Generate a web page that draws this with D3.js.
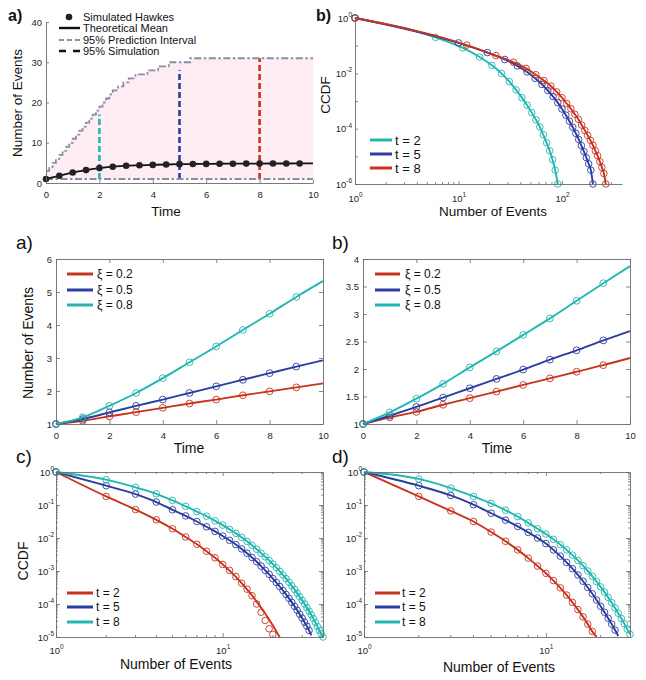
<!DOCTYPE html>
<html>
<head>
<meta charset="utf-8">
<script src="https://cdn.jsdelivr.net/npm/d3@7"></script>
<style>
  body { margin: 0; background: #fff; }
</style>
</head>
<body>
<svg id="fig" width="646" height="680"></svg>
<script>
// ---------- top a) : one simulated Hawkes process
var meanT = [0, 0.5, 1, 1.5, 2, 2.5, 3, 3.5, 4, 4.5, 5, 5.5, 6, 6.5, 7, 7.5, 8, 8.5, 9, 9.5, 10];
var meanN = [1, 1.8, 2.6, 3.2, 3.7, 4.05, 4.3, 4.4, 4.5, 4.6, 4.68, 4.72, 4.75, 4.78, 4.8, 4.82, 4.83, 4.84, 4.85, 4.86, 4.87];
var piT  = [0, 0.12, 0.25, 0.37, 0.5, 0.62, 0.75, 0.87, 1, 1.12, 1.25, 1.37, 1.5, 1.62, 1.75, 1.87, 2, 2.12, 2.25, 2.37, 2.5, 2.7, 2.9, 3.1, 3.35, 3.8, 4.2, 4.6, 5.4, 10];
var piUp = [3, 4, 5, 6, 7, 8, 9, 10, 11, 12, 13, 14, 15, 16, 17, 18, 19, 20, 21, 22, 23, 24, 25, 26, 27, 28, 29, 30, 31, 31];
var piLoT = [0, 10];
var piLo  = [1, 1];
var simT  = [2, 5, 8];
var simLo = [1, 1, 1];
var simHi = [17, 28, 31];

// ---------- top b) : CCDF (log10) at t = 2, 5, 8
var trTealN = [1, 6, 11, 16, 21, 26, 31, 36, 41, 46, 51, 56, 61, 66, 71, 76, 81, 86, 91];
var trTeal  = [0, -0.70, -1.08, -1.41, -1.71, -2.00, -2.30, -2.60, -2.88, -3.15, -3.42, -3.68, -3.94, -4.22, -4.51, -4.80, -5.12, -5.50, -6];
var trBlueN = [1, 10, 19, 28, 37, 46, 55, 64, 73, 82, 91, 100, 109, 118, 127, 136, 145, 154, 163, 172, 181, 190, 199];
var trBlue  = [0, -0.90, -1.25, -1.50, -1.73, -1.95, -2.18, -2.40, -2.62, -2.84, -3.06, -3.29, -3.51, -3.73, -3.95, -4.17, -4.39, -4.61, -4.83, -5.05, -5.27, -5.50, -6];
var trRedN  = [1, 12, 23, 34, 45, 56, 67, 78, 89, 100, 111, 122, 133, 144, 155, 166, 177, 188, 199, 210, 221, 232, 243, 254, 265];
var trRed   = [0, -0.98, -1.36, -1.60, -1.82, -2.05, -2.26, -2.46, -2.67, -2.88, -3.09, -3.28, -3.48, -3.66, -3.87, -4.06, -4.24, -4.42, -4.60, -4.80, -4.98, -5.19, -5.40, -5.62, -6];

// ---------- middle a) b) : mean number of events vs time
var tGrid = [0, 1, 2, 3, 4, 5, 6, 7, 8, 9, 10];
var aRed  = [1, 1.1, 1.23, 1.36, 1.49, 1.62, 1.74, 1.87, 1.99, 2.11, 2.23];
var aBlue = [1, 1.15, 1.35, 1.55, 1.74, 1.94, 2.14, 2.34, 2.54, 2.74, 2.93];
var aTeal = [1, 1.2, 1.55, 1.94, 2.39, 2.87, 3.35, 3.85, 4.34, 4.85, 5.33];
var bRed  = [1, 1.12, 1.22, 1.35, 1.47, 1.59, 1.71, 1.83, 1.95, 2.07, 2.2];
var bBlue = [1, 1.15, 1.31, 1.48, 1.65, 1.82, 1.99, 2.17, 2.34, 2.52, 2.69];
var bTeal = [1, 1.21, 1.46, 1.73, 2.03, 2.32, 2.62, 2.92, 3.24, 3.56, 3.87];
var xiLabels = ['\u03be = 0.2', '\u03be = 0.5', '\u03be = 0.8'];

// ---------- bottom c) d) : CCDF (log10) at N = 1, 2, 3, ...
var countN = d3.range(1, 41);
var cRedFit  = [0, -0.74, -1.14, -1.45, -1.72, -1.97, -2.19, -2.40, -2.60, -2.80, -2.99, -3.18, -3.37, -3.56, -3.74, -3.93, -4.11, -4.29, -4.47, -4.65, -4.83, -5.0];
var cRedSim  = [0, -0.74, -1.14, -1.45, -1.72, -1.97, -2.19, -2.40, -2.60, -2.80, -2.98, -3.17, -3.37, -3.55, -3.75, -4.00, -4.25, -4.50, -4.75, -4.92];
var cBlueFit = [0, -0.415, -0.67, -0.91, -1.145, -1.33, -1.50, -1.66, -1.80, -1.94, -2.07, -2.20, -2.33, -2.46, -2.59, -2.72, -2.85, -2.98, -3.10, -3.23,
                -3.35, -3.47, -3.59, -3.71, -3.83, -3.95, -4.07, -4.19, -4.31, -4.43, -4.55, -4.67, -4.80, -4.95];
var cTealFit = [0, -0.233, -0.466, -0.66, -0.86, -1.04, -1.20, -1.34, -1.48, -1.61, -1.74, -1.86, -1.98, -2.10, -2.22, -2.34, -2.46, -2.57, -2.68, -2.79,
                -2.90, -3.01, -3.12, -3.23, -3.34, -3.45, -3.56, -3.67, -3.78, -3.89, -4.00, -4.11, -4.22, -4.33, -4.44, -4.56, -4.68, -4.80, -4.90, -5.0];
var dRedFit  = [0, -0.74, -1.18, -1.50, -1.82, -2.10, -2.36, -2.61, -2.85, -3.07, -3.29, -3.51, -3.73, -3.95, -4.17, -4.39, -4.61, -4.83, -5.0];
var dBlueFit = [0, -0.415, -0.71, -0.99, -1.25, -1.46, -1.65, -1.83, -2.00, -2.17, -2.36, -2.55, -2.74, -2.93, -3.12, -3.31, -3.50, -3.69, -3.88, -4.07,
                -4.25, -4.43, -4.61, -4.79, -4.97];
var dTealFit = [0, -0.21, -0.49, -0.74, -0.95, -1.16, -1.35, -1.54, -1.72, -1.88, -2.04, -2.20, -2.36, -2.52, -2.68, -2.84, -3.00, -3.16, -3.32, -3.48,
                -3.64, -3.80, -3.96, -4.12, -4.28, -4.44, -4.60, -4.76, -4.92];
var tLabels = ['t = 2', 't = 5', 't = 8'];

// ---------- styles
var FONT = '"Liberation Sans", Arial, Helvetica, sans-serif';
var RED = '#c8331e', BLUE = '#2b3d9f', TEAL = '#22b6b1';
var GREYPI = '#8d8ca6', PINK = '#fdedf3';
var AXIS = '#6b6b6b', INK = '#262626';

var svg = d3.select('#fig');

function label(x, y, s, size, opt) {
  opt = opt || {};
  var t = svg.append('text').attr('x', x).attr('y', y).text(s)
    .attr('font-family', FONT).attr('font-size', size).attr('fill', opt.fill || '#111')
    .attr('text-anchor', opt.anchor || 'start');
  if (opt.bold) t.attr('font-weight', 'bold');
  if (opt.rotate) t.attr('transform', 'rotate(-90,' + x + ',' + y + ')');
  return t;
}

// "10" with a superscript exponent
function pow10(sel, e) {
  sel.text('10');
  sel.append('tspan').attr('dy', -4.5).attr('font-size', 6.5).text(e);
}

function frame(x, y, o) {
  var L = x.range()[0], R = x.range()[1], B = y.range()[0], T = y.range()[1];
  var tk = o.tick || 4;
  var g = svg.append('g');
  var gx = g.append('g').attr('transform', 'translate(0,' + B + ')')
    .call(d3.axisBottom(x).tickValues(o.xTicks).tickSizeInner(-tk).tickSizeOuter(0)
      .tickPadding(o.xPad).tickFormat(o.xLog ? '' : String));
  var gy = g.append('g').attr('transform', 'translate(' + L + ',0)')
    .call(d3.axisLeft(y).tickValues(o.yTicks).tickSizeInner(-tk).tickSizeOuter(0)
      .tickPadding(o.yPad).tickFormat(o.yLog ? '' : String));
  if (o.box) {
    g.append('g').attr('transform', 'translate(0,' + T + ')')
      .call(d3.axisTop(x).tickValues(o.xTicks).tickSizeInner(-tk).tickSizeOuter(0).tickFormat(''));
    g.append('g').attr('transform', 'translate(' + R + ',0)')
      .call(d3.axisRight(y).tickValues(o.yTicks).tickSizeInner(-tk).tickSizeOuter(0).tickFormat(''));
  }
  (o.xMinor || []).forEach(function (v) {
    g.append('line').attr('x1', x(v)).attr('x2', x(v)).attr('y1', B).attr('y2', B - 2);
    if (o.box) g.append('line').attr('x1', x(v)).attr('x2', x(v)).attr('y1', T).attr('y2', T + 2);
  });
  (o.yMinor || []).forEach(function (v) {
    g.append('line').attr('y1', y(v)).attr('y2', y(v)).attr('x1', L).attr('x2', L + 2);
    if (o.box) g.append('line').attr('y1', y(v)).attr('y2', y(v)).attr('x1', R).attr('x2', R - 2);
  });
  g.selectAll('line').attr('stroke', AXIS).attr('stroke-width', 0.8);
  g.selectAll('.domain').attr('stroke', AXIS).attr('stroke-width', 0.9);
  g.selectAll('text').attr('font-family', FONT).attr('font-size', 9.5).attr('fill', INK);
  if (o.xLog) gx.selectAll('.tick text').each(function (d) {
    pow10(d3.select(this), Math.round(Math.log10(d)));
  });
  if (o.yLog) gy.selectAll('.tick text').each(function (d) {
    if (!o.yEvery || d % o.yEvery === 0) pow10(d3.select(this), d);
  });
  return g;
}

function drawLine(x, y, xs, ys, color, w) {
  svg.append('path').datum(ys)
    .attr('fill', 'none').attr('stroke', color).attr('stroke-width', w)
    .attr('d', d3.line()
      .x(function (d, i) { return x(xs[i]); })
      .y(function (d) { return y(d); })
      .curve(d3.curveMonotoneX));
}

function drawRings(x, y, xs, ys, color, r) {
  svg.append('g').selectAll('circle').data(ys).join('circle')
    .attr('cx', function (d, i) { return x(xs[i]); })
    .attr('cy', function (d) { return y(d); })
    .attr('r', r).attr('fill', 'none').attr('stroke', color).attr('stroke-width', 0.9);
}

function legend(colors, texts, x0, x1, xt, ys, size) {
  colors.forEach(function (c, i) {
    svg.append('line').attr('x1', x0).attr('x2', x1).attr('y1', ys[i]).attr('y2', ys[i])
      .attr('stroke', c).attr('stroke-width', 3);
    label(xt, ys[i] + size * 0.36, texts[i], size);
  });
}

function minorLog(lo, hi) {
  // minor tick positions 2..9 x 10^k on an axis of N
  var out = [];
  for (var k = 0; Math.pow(10, k) < hi; k++)
    for (var m = 2; m <= 9; m++) { var v = m * Math.pow(10, k); if (v > lo && v <= hi) out.push(v); }
  return out;
}
function minorExp(lo, hi) {
  // minor tick positions on an axis of log10 values
  var out = [];
  for (var k = lo; k < hi; k++) for (var m = 2; m <= 9; m++) out.push(k + Math.log10(m));
  return out;
}

// ================= top a)
(function () {
  var x = d3.scaleLinear().domain([0, 10]).range([46, 313]);
  var y = d3.scaleLinear().domain([0, 40]).range([183, 22]);

  svg.append('path').datum(piT)
    .attr('fill', PINK)
    .attr('d', d3.area()
      .x(function (d) { return x(d); })
      .y0(y(piLo[0]))
      .y1(function (d, i) { return y(piUp[i]); })
      .curve(d3.curveStepAfter));

  [TEAL, BLUE, RED].forEach(function (c, i) {
    svg.append('line').attr('x1', x(simT[i])).attr('x2', x(simT[i]))
      .attr('y1', y(simLo[i])).attr('y2', y(simHi[i]))
      .attr('stroke', c).attr('stroke-width', 2.6).attr('stroke-dasharray', '6,3');
  });

  svg.append('path').datum(piUp)
    .attr('fill', 'none').attr('stroke', GREYPI).attr('stroke-width', 1.8)
    .attr('stroke-dasharray', '7,2.5,2.5,2.5')
    .attr('d', d3.line().x(function (d, i) { return x(piT[i]); }).y(function (d) { return y(d); })
      .curve(d3.curveStepAfter));
  svg.append('path').datum(piLo)
    .attr('fill', 'none').attr('stroke', GREYPI).attr('stroke-width', 1.8)
    .attr('stroke-dasharray', '7,2.5,2.5,2.5')
    .attr('d', d3.line().x(function (d, i) { return x(piLoT[i]); }).y(function (d) { return y(d); }));

  drawLine(x, y, meanT, meanN, '#111', 1.8);
  svg.append('g').selectAll('circle').data(meanN.slice(0, 20)).join('circle')
    .attr('cx', function (d, i) { return x(meanT[i]); })
    .attr('cy', function (d) { return y(d); })
    .attr('r', 3.3).attr('fill', '#222');

  frame(x, y, { xTicks: [0, 2, 4, 6, 8, 10], yTicks: [0, 10, 20, 30, 40], xPad: 8, yPad: 4, tick: 3 });

  // legend
  svg.append('circle').attr('cx', 69).attr('cy', 17).attr('r', 3.3).attr('fill', '#222');
  svg.append('line').attr('x1', 59).attr('x2', 80).attr('y1', 28).attr('y2', 28)
    .attr('stroke', '#111').attr('stroke-width', 2.4);
  svg.append('line').attr('x1', 59).attr('x2', 80).attr('y1', 40).attr('y2', 40)
    .attr('stroke', GREYPI).attr('stroke-width', 2).attr('stroke-dasharray', '5,3');
  svg.append('line').attr('x1', 59).attr('x2', 80).attr('y1', 51).attr('y2', 51)
    .attr('stroke', '#111').attr('stroke-width', 2.6).attr('stroke-dasharray', '7,7');
  ['Simulated Hawkes', 'Theoretical Mean', '95% Prediction Interval', '95% Simulation'].forEach(function (s, i) {
    label(83, [17, 28, 40, 51][i] + 4, s, 11);
  });

  label(166, 216, 'Time', 13.5, { anchor: 'middle' });
  label(22, 103, 'Number of Events', 13.5, { anchor: 'middle', rotate: true });
  label(8, 21, 'a)', 16, { bold: true });
})();

// ================= top b)
(function () {
  var x = d3.scaleLog().domain([1, 380]).range([355, 622]);
  var y = d3.scaleLinear().domain([-6, 0]).range([184, 18]);

  drawLine(x, y, trTealN, trTeal, TEAL, 1.9);
  drawRings(x, y, trTealN, trTeal, TEAL, 3.3);
  drawLine(x, y, trBlueN, trBlue, BLUE, 1.9);
  drawRings(x, y, trBlueN, trBlue, BLUE, 3.3);
  drawLine(x, y, trRedN, trRed, RED, 1.9);
  drawRings(x, y, trRedN, trRed, RED, 3.3);

  frame(x, y, {
    xTicks: [1, 10, 100], yTicks: [-6, -5, -4, -3, -2, -1, 0], xLog: true, yLog: true, yEvery: 2,
    xMinor: minorLog(1, 380), xPad: 11, yPad: 3, tick: 3
  });

  legend([TEAL, BLUE, RED], tLabels, 370, 392, 395, [140, 154, 168], 13);
  label(493, 216, 'Number of Events', 13.5, { anchor: 'middle' });
  label(330, 95, 'CCDF', 13.5, { anchor: 'middle', rotate: true });
  label(316, 21, 'b)', 16, { bold: true });
})();

// ================= middle a) b)
function meanPanel(left, right, yMax, yTicks, reds, blues, teals, lx0, lx1, lxt, tag, tagX, titleX) {
  var x = d3.scaleLinear().domain([0, 10]).range([left, right]);
  var y = d3.scaleLinear().domain([1, yMax]).range([424, 259]);
  [[reds, RED], [blues, BLUE], [teals, TEAL]].forEach(function (s) {
    drawLine(x, y, tGrid, s[0], s[1], 1.9);
    drawRings(x, y, tGrid.slice(0, 10), s[0].slice(0, 10), s[1], 3.4);
  });
  frame(x, y, { xTicks: [0, 2, 4, 6, 8, 10], yTicks: yTicks, box: true, xPad: 8, yPad: 4 });
  legend([RED, BLUE, TEAL], xiLabels, lx0, lx1, lxt, [274, 290, 305], 12);
  label(titleX, 453, 'Time', 14, { anchor: 'middle' });
  label(tagX, 249, tag, 19);
  return x;
}
meanPanel(56, 323, 6, [1, 2, 3, 4, 5, 6], aRed, aBlue, aTeal, 67, 93, 97, 'a)', 16, 189);
meanPanel(363, 630, 4, [1, 1.5, 2, 2.5, 3, 3.5, 4], bRed, bBlue, bTeal, 375, 400, 405, 'b)', 332, 497);
label(33, 343, 'Number of Events', 14, { anchor: 'middle', rotate: true });

// ================= bottom c) d)
function ccdfPanel(left, right, nMax, series, lx0, lx1, lxt, tag, tagX, titleX, titleY) {
  var x = d3.scaleLog().domain([1, nMax]).range([left, right]);
  var y = d3.scaleLinear().domain([-5, 0]).range([637, 472]);
  series.forEach(function (s) {
    drawLine(x, y, countN, s.fit, s.color, 1.9);
    drawRings(x, y, countN, s.sim, s.color, 3.3);
  });
  frame(x, y, {
    xTicks: [1, 10], yTicks: [-5, -4, -3, -2, -1, 0], xLog: true, yLog: true, box: true,
    xMinor: minorLog(1, nMax), yMinor: minorExp(-5, 0), xPad: 10, yPad: 2
  });
  legend([RED, BLUE, TEAL], tLabels, lx0, lx1, lxt, [593, 607, 622], 12);
  label(titleX, titleY, 'Number of Events', 14, { anchor: 'middle' });
  label(tagX, 463, tag, 19);
}
ccdfPanel(56, 323, 40, [
  { fit: cRedFit, sim: cRedSim, color: RED },
  { fit: cBlueFit, sim: cBlueFit.slice(0, 33), color: BLUE },
  { fit: cTealFit, sim: cTealFit, color: TEAL }
], 67, 93, 96, 'c)', 16, 176, 669);
ccdfPanel(364, 630, 29, [
  { fit: dRedFit, sim: dRedFit.slice(0, 18), color: RED },
  { fit: dBlueFit, sim: dBlueFit.slice(0, 24), color: BLUE },
  { fit: dTealFit, sim: dTealFit, color: TEAL }
], 375, 400, 402, 'd)', 332, 499, 672);
label(28, 561, 'CCDF', 14, { anchor: 'middle', rotate: true });
</script>
</body>
</html>
